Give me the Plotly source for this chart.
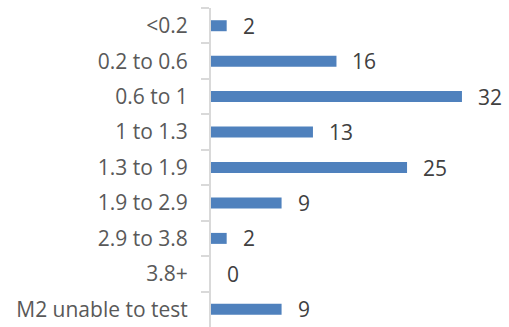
import plotly.graph_objects as go

# Categories (top to bottom) and counts
categories = ["<0.2", "0.2 to 0.6", "0.6 to 1", "1 to 1.3", "1.3 to 1.9",
              "1.9 to 2.9", "2.9 to 3.8", "3.8+", "M2 unable to test"]
counts = [2, 16, 32, 13, 25, 9, 2, 0, 9]

BAR_COLOR = "#4F81BD"
AXIS_COLOR = "#D9D9D9"
FONT = "Open Sans"

fig = go.Figure(
    go.Bar(
        x=counts,
        y=categories,
        orientation="h",
        marker=dict(color=BAR_COLOR, line=dict(width=0)),
        hoverinfo="skip",
    )
)

# Value labels placed just to the right of each bar end
for cat, val in zip(categories, counts):
    fig.add_annotation(
        x=val, y=cat, text=str(val), showarrow=False,
        xanchor="left", yanchor="middle", xshift=14,
        font=dict(family=FONT, size=21, color="#404040"),
    )

fig.update_layout(
    width=509, height=327,
    margin=dict(l=211, r=0, t=8, b=0),
    paper_bgcolor="white", plot_bgcolor="white",
    bargap=0.69,
    showlegend=False,
    font=dict(family=FONT, size=21, color="#595959"),
)
fig.update_xaxes(
    range=[0, 38], visible=False, showgrid=False, zeroline=False,
)
fig.update_yaxes(
    categoryorder="array", categoryarray=categories, autorange="reversed",
    showline=True, linecolor=AXIS_COLOR, linewidth=2,
    ticks="outside", tickson="boundaries", ticklen=8, tickwidth=2,
    tickcolor=AXIS_COLOR, ticklabelstandoff=17,
    showgrid=False, zeroline=False,
    tickfont=dict(family=FONT, size=21, color="#595959"),
)

fig.write_html("out.html")
